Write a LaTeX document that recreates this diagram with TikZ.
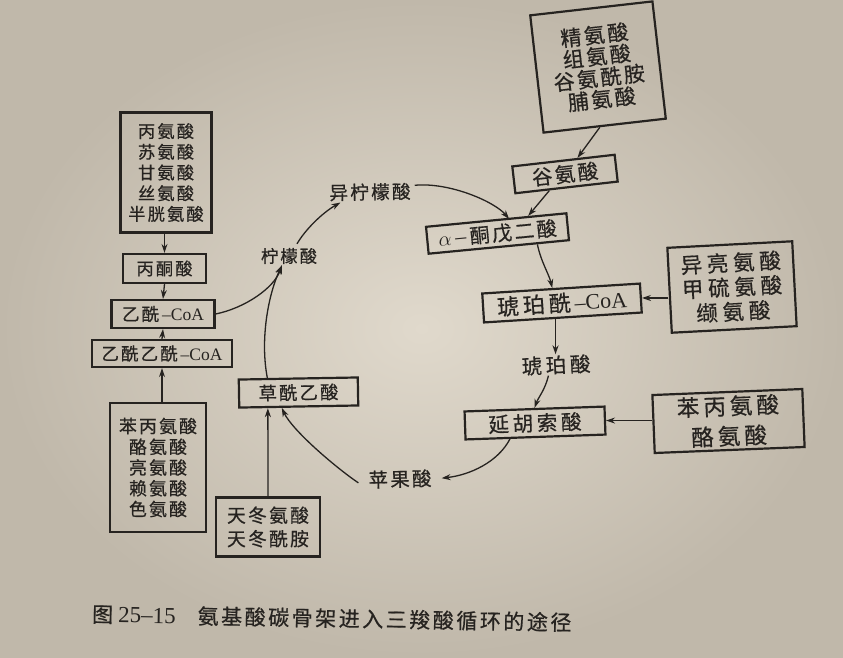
\documentclass[tikz,border=0pt]{standalone}
\usepackage{fontspec}
\setmainfont{Liberation Serif}
\newfontfamily\cjk[LetterSpace=12, FakeBold=0.6]{Noto Sans CJK SC}
\usetikzlibrary{arrows.meta,calc}
\definecolor{ink}{RGB}{38,35,32}
\definecolor{paperin}{RGB}{224,217,204}
\definecolor{paperout}{RGB}{192,184,170}
\newcommand{\fsz}[2]{\fontsize{#1}{#2}\selectfont}
\newcommand{\coa}{{\rmfamily\,–CoA}}
\newcommand{\wide}{\addfontfeature{LetterSpace=18}}
\newcommand{\wider}{\addfontfeature{LetterSpace=22}}
\tikzset{
  box/.style={draw=ink, line width=2.2pt, inner sep=0pt, align=center, text=ink},
  lbl/.style={inner sep=1pt, text=ink},
  arr/.style={draw=ink, line width=1.3pt, -{Stealth[length=9pt,width=6pt]}}
}
\begin{document}
\begin{tikzpicture}[x=1pt,y=-1pt]
\shade[inner color=paperin, outer color=paperout] (0,0) rectangle (843,657);
\useasboundingbox (0,0) rectangle (843,657);

% left column
\node[box, minimum width=91pt, minimum height=120pt, font=\cjk\fsz{17.3}{20.7}] (A) at (166,172.5) {丙氨酸\\苏氨酸\\甘氨酸\\丝氨酸\\半胱氨酸};
\node[box, minimum width=83pt, minimum height=29pt, font=\cjk\fsz{17.3}{20}] (pyr) at (164.5,268.5) {丙酮酸};
\node[box, minimum width=103pt, minimum height=28pt, font=\cjk\fsz{17.5}{20}] (acoa) at (163,314) {乙酰\coa};
\node[box, minimum width=140pt, minimum height=27pt, font=\cjk\fsz{17.5}{20}] (aacoa) at (162,353.5) {乙酰乙酰\coa};
\node[box, minimum width=96pt, minimum height=129pt, font=\cjk\fsz{17.9}{20.75}] (B) at (158,467.5) {苯丙氨酸\\酪氨酸\\亮氨酸\\赖氨酸\\色氨酸};
\node[box, minimum width=119pt, minimum height=28pt, rotate=1, font=\cjk\fsz{18.3}{20}] (oaa) at (298.5,392.5) {草酰乙酸};
\node[box, minimum width=104pt, minimum height=59pt, font=\cjk\fsz{18.8}{23.5}] (E) at (268,527) {天冬氨酸\\天冬酰胺};

% cycle labels
\node[lbl, font=\cjk\fsz{17.3}{20}] (cit) at (289,256) {柠檬酸};
\node[lbl, rotate=1, font=\cjk\fsz{18.6}{20}] (icit) at (370,192) {异柠檬酸};
\node[lbl, rotate=2.5, font=\cjk\wide\fsz{20.5}{22}] (suc) at (556,365) {琥珀酸};
\node[lbl, rotate=1.5, font=\cjk\fsz{19.4}{21}] (mal) at (400,479) {苹果酸};

% right side
\node[box, minimum width=123pt, minimum height=118pt, rotate=6.5, font=\cjk\fsz{21}{21.5}] (T) at (598,67) {精氨酸\\组氨酸\\谷氨酰胺\\脯氨酸};
\node[box, minimum width=103pt, minimum height=27pt, rotate=6.5, font=\cjk\fsz{20.5}{21}] (glu) at (565,174) {谷氨酸};
\node[box, minimum width=141pt, minimum height=27pt, rotate=5.5, font=\cjk\fsz{20}{21}] (akg) at (497.5,233.5) {{\rmfamily\fsz{22}{22}$\alpha$\,–\,}酮戊二酸};
\node[box, minimum width=158pt, minimum height=29pt, rotate=3.6, font=\cjk\wide\fsz{22}{23}] (scoa) at (562,303) {琥珀酰\coa};
\node[box, minimum width=125pt, minimum height=85pt, rotate=3, font=\cjk\wider\fsz{21.5}{24.5}] (C) at (732,287) {异亮氨酸\\甲硫氨酸\\缬氨酸};
\node[box, minimum width=140pt, minimum height=28pt, rotate=2, font=\cjk\wide\fsz{20.5}{21}] (fum) at (535,423) {延胡索酸};
\node[box, minimum width=150pt, minimum height=58pt, rotate=2.3, font=\cjk\wide\fsz{22.5}{30}] (D) at (728.5,421) {苯丙氨酸\\酪氨酸};

% caption
\node[lbl, anchor=west, rotate=-1, font=\cjk\fsz{21}{22}] (cap) at (91,614) {图\hspace{5pt}{\rmfamily\fsz{23}{24}25–15}\hspace{22pt}氨基酸碳骨架进入三羧酸循环的途径};

% connectors, left
\draw[arr] (pyr.north |- A.south) -- (pyr.north);
\draw[arr] (pyr.south) -- (acoa.north);
\draw[arr] (aacoa.north) -- (acoa.south);
\draw[arr] (aacoa.south |- B.north) -- (aacoa.south);
\draw[arr] (acoa.east) .. controls (245,308) and (274,288) .. ([xshift=-7pt]cit.south);
\draw[arr] ($(oaa.north)!0.51!(oaa.north west)$) .. controls (260,340) and (268,295) .. ([xshift=-7pt]cit.south);
\draw[arr] (E.north) -- ($(oaa.south)!0.51!(oaa.south west)$);

% cycle
\draw[arr] ([xshift=8pt,yshift=3pt]cit.north) .. controls (305,230) and (322,213) .. ([xshift=12pt]icit.south west);
\draw[arr] ([xshift=3pt,yshift=6pt]icit.east) .. controls (450,182) and (495,202) .. ([xshift=13pt]akg.north);
\draw[arr] ($(T.south)!0.08!(T.south west)$) -- ($(glu.north)!0.27!(glu.north east)$);
\draw[arr] ($(glu.south)!0.33!(glu.south west)$) -- ($(akg.north)!0.45!(akg.north east)$);
\draw[arr] ($(akg.south)!0.54!(akg.south east)$) .. controls (541,262) and (549,274) .. ($(scoa.north)!0.11!(scoa.north west)$);
\draw[arr] (C.west |- scoa.east) -- (scoa.east);
\draw[arr] (suc.north |- scoa.south) -- (suc.north);
\draw[arr] ([xshift=-8pt]suc.south) .. controls (545,390) and (538,398) .. (fum.north);
\draw[arr] (D.west |- fum.east) -- (fum.east);
\draw[arr] ($(fum.south)!0.36!(fum.south west)$) .. controls (498,462) and (470,475) .. ([xshift=9pt]mal.east);
\draw[arr] ([xshift=-9pt,yshift=-3pt]mal.west) .. controls (335,467) and (292,430) .. ($(oaa.south)!0.28!(oaa.south west)$);
\end{tikzpicture}
\end{document}
